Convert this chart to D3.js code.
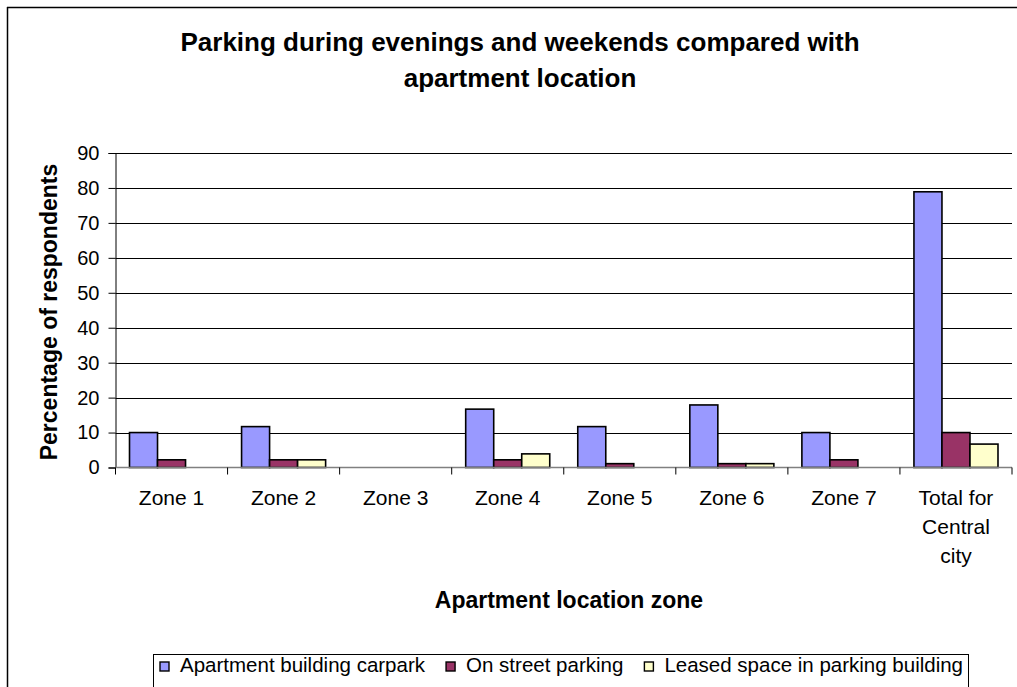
<!DOCTYPE html>
<html>
<head>
<meta charset="utf-8">
<script src="https://cdn.jsdelivr.net/npm/d3@7"></script>
<style>
  html, body { margin: 0; padding: 0; background: #fff; overflow: hidden; }
  svg { display: block; font-family: "Liberation Sans", Arial, sans-serif; }
</style>
</head>
<body>
<svg id="chart" width="1017" height="687"></svg>
<script>
// Categories and series (percentage of respondents)
const zones = ["Zone 1", "Zone 2", "Zone 3", "Zone 4", "Zone 5", "Zone 6", "Zone 7", "Total for Central city"];
const seriesNames = ["Apartment building carpark", "On street parking", "Leased space in parking building"];
const carpark = [10, 11.7, 0, 16.7, 11.7, 17.9, 10, 78.9];
const onStreet = [2.2, 2.2, 0, 2.2, 1.1, 1.1, 2.2, 10];
const leased = [0, 2.2, 0, 3.9, 0, 1.1, 0, 6.7];
const yTicks = [0, 10, 20, 30, 40, 50, 60, 70, 80, 90];
const colors = ["#9999FF", "#993366", "#FFFFCC"];

const W = 1017, H = 687;
const svg = d3.select("#chart");

// White page background
svg.append("rect").attr("width", W).attr("height", H).attr("fill", "#fff");

const plot = { left: 115.5, right: 1012, top: 153, bottom: 467.5 };

const x0 = d3.scaleBand().domain(zones).range([plot.left, plot.right]).paddingInner(0).paddingOuter(0);
const x1 = d3.scaleBand().domain(seriesNames).range([0, x0.bandwidth()]).paddingInner(0).paddingOuter(0.5);
const y = d3.scaleLinear().domain([0, 90]).range([plot.bottom, plot.top]);

// Gridlines
svg.append("g").selectAll("line").data(yTicks.filter(d => d > 0)).join("line")
  .attr("x1", plot.left).attr("x2", plot.right)
  .attr("y1", d => Math.round(y(d)) + 0.5).attr("y2", d => Math.round(y(d)) + 0.5)
  .attr("stroke", "#000").attr("stroke-width", 1);

// Bars
const rows = zones.map((z, i) => ({ zone: z, vals: [carpark[i], onStreet[i], leased[i]] }));
const groups = svg.append("g").selectAll("g").data(rows).join("g")
  .attr("transform", d => `translate(${x0(d.zone)},0)`);
groups.selectAll("rect")
  .data(d => d.vals.map((v, k) => ({ v, k })).filter(e => e.v > 0))
  .join("rect")
  .attr("x", e => x1(seriesNames[e.k]))
  .attr("y", e => y(e.v))
  .attr("width", x1.bandwidth())
  .attr("height", e => y(0) - y(e.v))
  .attr("fill", e => colors[e.k])
  .attr("stroke", "#000").attr("stroke-width", 1.6);

// Y axis
const yAxis = d3.axisLeft(y).tickValues(yTicks).tickSize(7).tickPadding(9);
const gy = svg.append("g").attr("transform", `translate(${plot.left},0)`).call(yAxis);
gy.select(".domain").attr("stroke", "#000");
gy.selectAll(".tick line").attr("stroke", "#000");
gy.selectAll(".tick text").attr("font-size", 20).attr("fill", "#000")
  .attr("font-family", "Liberation Sans, Arial, sans-serif");

// X axis (category boundaries as ticks)
const gx = svg.append("g");
gx.append("line")
  .attr("x1", plot.left).attr("x2", plot.right)
  .attr("y1", plot.bottom).attr("y2", plot.bottom)
  .attr("stroke", "#808080").attr("stroke-width", 1.5);
const bounds = zones.map(z => x0(z)).concat([plot.right]);
gx.selectAll("line.tk").data(bounds).join("line").attr("class", "tk")
  .attr("x1", d => d).attr("x2", d => d)
  .attr("y1", plot.bottom).attr("y2", plot.bottom + 7)
  .attr("stroke", "#000").attr("stroke-width", 1);

// Category labels, wrapped where needed
const wrapped = { "Total for Central city": ["Total for", "Central", "city"] };
zones.forEach(z => {
  const lines = wrapped[z] || [z];
  const t = svg.append("text")
    .attr("x", x0(z) + x0.bandwidth() / 2)
    .attr("y", 505)
    .attr("text-anchor", "middle")
    .attr("font-size", 21).attr("fill", "#000");
  lines.forEach((ln, i) => t.append("tspan")
    .attr("x", x0(z) + x0.bandwidth() / 2)
    .attr("dy", i === 0 ? 0 : 29)
    .text(ln));
});

// Title
const title = svg.append("text").attr("text-anchor", "middle")
  .attr("font-size", 26).attr("font-weight", "bold").attr("fill", "#000");
title.append("tspan").attr("x", 520).attr("y", 51).text("Parking during evenings and weekends compared with");
title.append("tspan").attr("x", 520).attr("y", 87).text("apartment location");

// Axis titles
svg.append("text")
  .attr("transform", "translate(57,312) rotate(-90)")
  .attr("text-anchor", "middle")
  .attr("font-size", 23).attr("font-weight", "bold").attr("fill", "#000")
  .text("Percentage of respondents");

svg.append("text")
  .attr("x", 569).attr("y", 608)
  .attr("text-anchor", "middle")
  .attr("font-size", 23).attr("font-weight", "bold").attr("fill", "#000")
  .text("Apartment location zone");

// Legend
const legend = svg.append("g");
legend.append("rect")
  .attr("x", 153.5).attr("y", 654.5).attr("width", 815).attr("height", 60)
  .attr("fill", "#fff").attr("stroke", "#000").attr("stroke-width", 1);

const items = legend.selectAll("g").data(seriesNames).join("g");
items.append("rect")
  .attr("width", 9).attr("height", 9)
  .attr("fill", (d, i) => colors[i]).attr("stroke", "#000").attr("stroke-width", 1.4);
items.append("text")
  .attr("x", 20).attr("y", 10)
  .attr("font-size", 20.5).attr("fill", "#000")
  .text(d => d);

// Spread the items across the legend box
const widths = items.select("text").nodes().map(n => n.getComputedTextLength());
const startX = 160, endX = 963;
const gap = (endX - startX - d3.sum(widths) - 20 * seriesNames.length) / (seriesNames.length - 1);
let cx = startX;
items.each(function(d, i) {
  d3.select(this).attr("transform", `translate(${cx},662)`);
  cx += 20 + widths[i] + gap;
});

// Chart frame: only the left and top edges fall inside the view
svg.append("line").attr("x1", 7.5).attr("x2", 7.5).attr("y1", 7).attr("y2", H)
  .attr("stroke", "#000").attr("stroke-width", 1.5);
svg.append("line").attr("x1", 7).attr("x2", W).attr("y1", 7.5).attr("y2", 7.5)
  .attr("stroke", "#000").attr("stroke-width", 1.5);
</script>
</body>
</html>
